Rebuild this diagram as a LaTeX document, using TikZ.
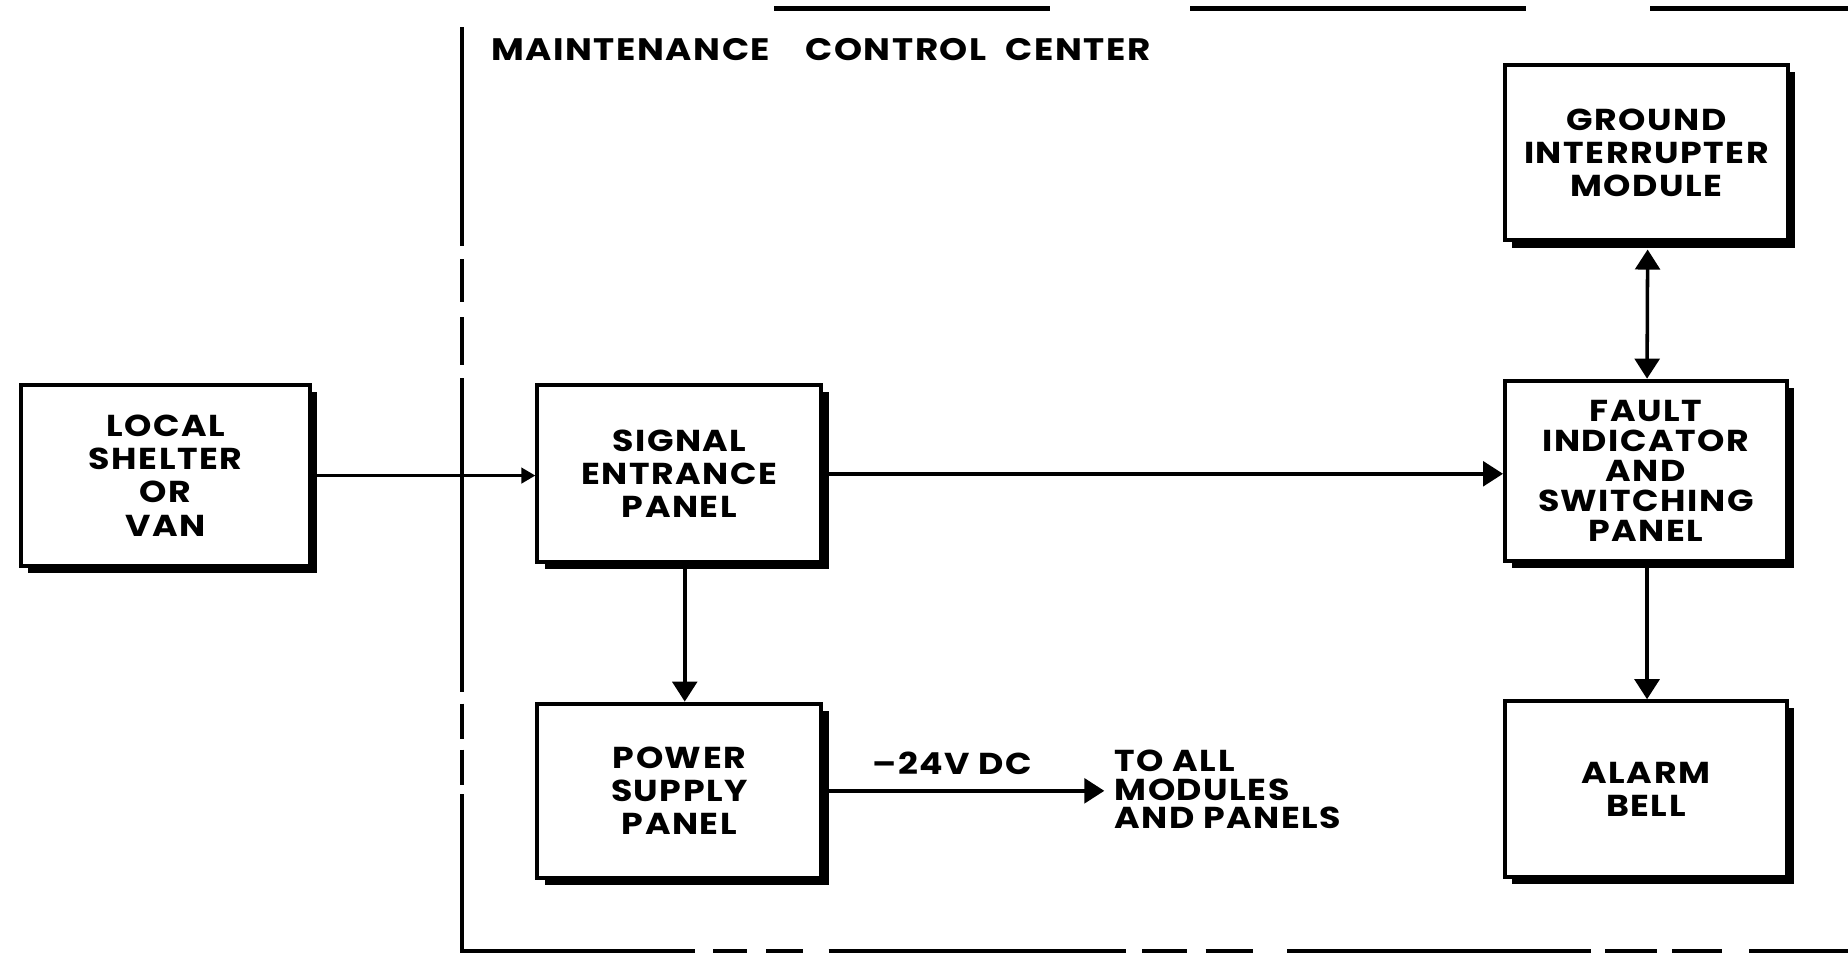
\documentclass[tikz,border=0pt]{standalone}
\usepackage{fontspec}
\setmainfont{Poppins}[FakeStretch=1.15, LetterSpace=5]
\usetikzlibrary{arrows.meta,shadows}
\tikzset{
  blk/.style={draw, line width=0.34mm, fill=white, inner sep=0pt, align=center,
    minimum width=24.1mm, minimum height=15mm,
    drop shadow={shadow xshift=0.6mm, shadow yshift=-0.6mm, fill=black, opacity=1},
    font=\fontsize{7.3}{8}\selectfont\bfseries},
  lbl/.style={inner sep=0pt, font=\fontsize{7.3}{7}\selectfont\bfseries},
  arr/.style={line width=0.3mm, -{Triangle[length=1.7mm,width=2.1mm]}},
  frame/.style={line width=0.38mm, line cap=butt},
}
\begin{document}
\begin{tikzpicture}[x=0.1mm,y=-0.1mm]
\useasboundingbox (0,0) rectangle (1568,810);
% dashed frame of the maintenance control center
\foreach \a/\b in {23/209,220/256,269/310,321/587,597/627,636/666}
  \draw[frame] (392,\a) -- (392,\b);
\draw[frame, line join=miter] (392,674) -- (392,807) -- (590,807);
\foreach \a/\b in {605/634,650/681,703/955,969/1007,1023/1063,1092/1350,1362/1406,1419/1461,1484/1568}
  \draw[frame] (\a,807) -- (\b,807);
\foreach \a/\b in {657/891,1010/1295,1400/1568}
  \draw[frame, line width=0.45mm] (\a,7) -- (\b,7);
\node[lbl, anchor=west, font=\fontsize{7.5}{9}\selectfont\bfseries] (title) at (416,42)
  {MAINTENANCE\hspace{3mm}CONTROL\hspace{1.6mm}CENTER};
% blocks
\node[blk, minimum width=24.5mm, minimum height=15.3mm] (local) at (140.5,403.5)
  {LOCAL\\SHELTER\\OR\\VAN};
\node[blk] (signal) at (576.5,402) {SIGNAL\\ENTRANCE\\PANEL};
\node[blk, minimum height=14.8mm] (power) at (576.5,671) {POWER\\SUPPLY\\PANEL};
\node[blk, minimum width=24mm, minimum height=14.9mm] (ground) at (1397,129.5)
  {GROUND\\INTERRUPTER\\MODULE};
\node[blk, minimum width=23.9mm, minimum height=15.3mm, font=\fontsize{7.3}{7.2}\selectfont\bfseries]
  (fault) at (1396.5,399.5) {FAULT\\INDICATOR\\AND\\SWITCHING\\PANEL};
\node[blk, minimum width=23.9mm, minimum height=14.9mm] (alarm) at (1396.5,669.5) {ALARM\\BELL};
% connectors
\coordinate (toall) at (937,671);
\draw[line width=0.3mm, -{Triangle[length=1.2mm,width=1.3mm]}] (local.east) -- (local.east -| signal.west);
\draw[arr] (signal.east) -- (signal.east -| fault.west);
\draw[arr] ([xshift=0.45mm]signal.south) -- ([xshift=0.45mm]power.north);
\draw[arr] ([xshift=0.1mm]fault.south) -- ([xshift=0.1mm]alarm.north);
\draw[line width=0.3mm, {Triangle[length=1.7mm,width=2.1mm]}-{Triangle[length=1.7mm,width=2.1mm]}]
  ([xshift=0.1mm,yshift=-0.6mm]ground.south) -- ([xshift=0.1mm]fault.north);
\draw[arr] (power.east) -- (toall);
\node[lbl] (dc) at (808,648) {–24V DC};
\node[lbl, anchor=west, align=left, font=\fontsize{7.3}{6.9}\selectfont\bfseries] (dest) at (945,670)
  {TO ALL\\MODULES\\AND PANELS};
\end{tikzpicture}
\end{document}
